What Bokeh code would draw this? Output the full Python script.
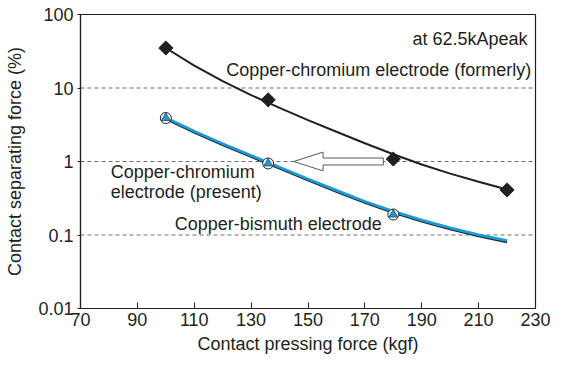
import math
from bokeh.plotting import figure
from bokeh.models import Range1d, FixedTicker, Label, LogScale
from bokeh.embed import file_html
from bokeh.resources import INLINE

# ---- data ----
force_cucr = [100, 136, 180, 220]
sep_cucr = [35, 6.9, 1.08, 0.41]

force_cubi = [100, 136, 180]
sep_cubi = [3.9, 0.94, 0.19]

curve_force = [100, 110, 120, 130, 140, 150, 160, 170, 180, 190, 200, 210, 220]
curve_cucr = [35.0, 20.1, 12.4, 8.02, 5.36, 3.66, 2.54, 1.77, 1.256, 0.912, 0.684, 0.531, 0.417]
curve_cubi = [3.95, 2.58, 1.746, 1.208, 0.836, 0.578, 0.405, 0.286, 0.21, 0.159, 0.125, 0.1005, 0.0836]

x_ticks = [70, 90, 110, 130, 150, 170, 190, 210, 230]
y_ticks = [0.01, 0.1, 1, 10, 100]
y_tick_labels = ["0.01", "0.1", "1", "10", "100"]
grid_levels = [0.1, 1, 10]

# arrow (annotation) : from tail to tip at level 1
arrow_tail_x = 176.5
arrow_base_x = 155.3
arrow_tip_x = 145.0
arrow_level = 1.0

FONT = "Liberation Sans"
TXT = "#231f20"
BLUE = "#1a9ad8"
FS = "18px"

p = figure(width=550, height=358, output_backend="svg", toolbar_location=None,
           y_axis_type="log",
           x_range=Range1d(70, 230), y_range=Range1d(0.01, 100),
           min_border_left=80, min_border_right=15, min_border_top=14,
           min_border_bottom=50)
# slightly shifted log range used to draw the dark under-edge of the blue curve
k = 1.04
p.extra_y_ranges = {"shift": Range1d(0.01 * k, 100 * k)}
p.extra_y_scales = {"shift": LogScale()}

p.background_fill_color = "white"
p.border_fill_color = "white"
p.outline_line_color = "#231f20"
p.outline_line_width = 1.2

# axes
p.xaxis.ticker = FixedTicker(ticks=x_ticks)
p.yaxis.ticker = FixedTicker(ticks=y_ticks)
p.yaxis.major_label_overrides = {t: l for t, l in zip(y_ticks, y_tick_labels)}
for ax in (p.xaxis, p.yaxis):
    ax.axis_line_color = "#231f20"
    ax.axis_line_width = 1.2
    ax.major_tick_line_color = "#231f20"
    ax.minor_tick_line_color = None
    ax.major_label_text_font = FONT
    ax.major_label_text_font_size = FS
    ax.major_label_text_color = TXT
    ax.axis_label_text_font = FONT
    ax.axis_label_text_font_size = FS
    ax.axis_label_text_font_style = "normal"
    ax.axis_label_text_color = TXT
p.xaxis.major_tick_in = 6
p.xaxis.major_tick_out = 0
p.xaxis.major_label_standoff = 4
p.xaxis.axis_label = "Contact pressing force (kgf)"
p.xaxis.axis_label_standoff = 5
p.yaxis.major_tick_in = 0
p.yaxis.major_tick_out = 3
p.yaxis.major_label_standoff = 4
p.yaxis.axis_label = "Contact separating force (%)"
p.yaxis.axis_label_standoff = 10

p.xgrid.grid_line_color = None
p.ygrid.grid_line_color = None

# dashed horizontal grid lines
for g in grid_levels:
    p.line(x=[70, 230], y=[g, g], line_color="#6d6e71", line_width=1, line_dash="4 3")

# curves
p.line(x=curve_force, y=curve_cucr, line_color="#231f20", line_width=2)
p.line(x=curve_force, y=curve_cubi, line_color="#231f20", line_width=2.4,
       y_range_name="shift")
p.line(x=curve_force, y=curve_cubi, line_color=BLUE, line_width=2.8)

# markers
p.scatter(x=force_cucr, y=sep_cucr, marker="square", size=10, angle=math.pi / 4,
          fill_color="#231f20", line_color="#231f20")
p.scatter(x=force_cubi, y=sep_cubi, marker="circle", size=11,
          fill_color="white", line_color="#231f20", line_width=1)
p.scatter(x=force_cubi, y=sep_cubi, marker="triangle", size=9,
          fill_color=BLUE, line_color="#231f20", line_width=0.6)

# hollow arrow
head_f = 1.343
shaft_f = 1.115
ax_x = [arrow_tip_x, arrow_base_x, arrow_base_x, arrow_tail_x, arrow_tail_x,
        arrow_base_x, arrow_base_x]
ax_y = [arrow_level, arrow_level * head_f, arrow_level * shaft_f,
        arrow_level * shaft_f, arrow_level / shaft_f, arrow_level / shaft_f,
        arrow_level / head_f]
p.patch(x=ax_x, y=ax_y, fill_color="white", line_color="#58595b", line_width=1)

# labels
def lab(x, y, text, align="left"):
    p.add_layout(Label(x=x, y=y, text=text, text_font=FONT, text_font_size=FS,
                       text_color=TXT, text_align=align, text_baseline="middle"))

lab(227.2, 46, "at 62.5kApeak", "right")
lab(228.5, 17.6, "Copper-chromium electrode (formerly)", "right")
lab(80.6, 0.72, "Copper-chromium")
lab(80.6, 0.39, "electrode (present)")
lab(103.1, 0.14, "Copper-bismuth electrode")

open("out.html", "w").write(file_html(p, INLINE))
